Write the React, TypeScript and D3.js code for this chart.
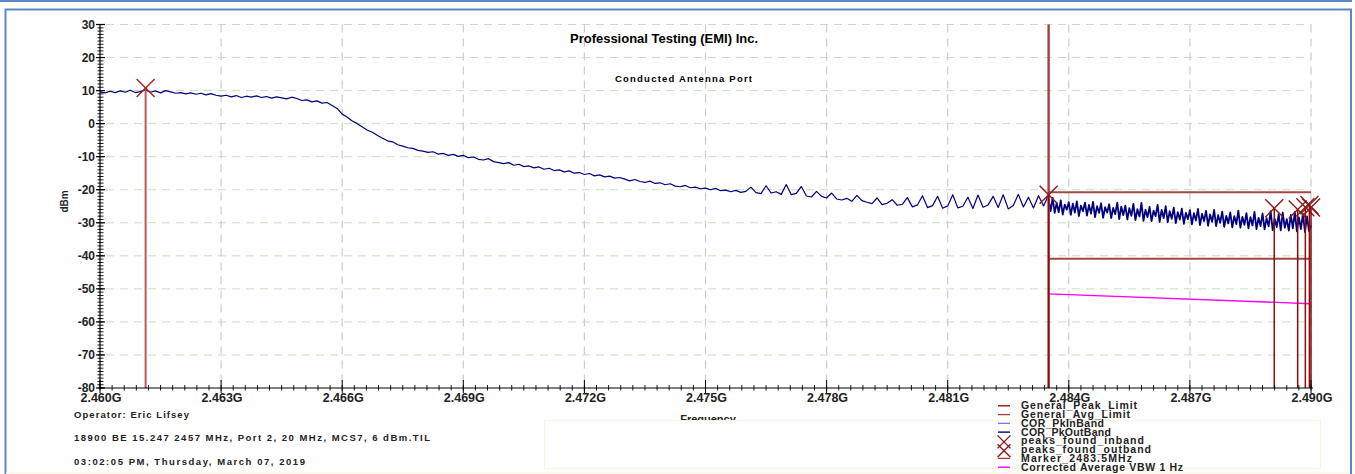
import React from "react";
import * as d3 from "d3";

// ---------- DATA ----------
const yTickValues = [30, 20, 10, 0, -10, -20, -30, -40, -50, -60, -70, -80];
const xTickValues = [2.46, 2.463, 2.466, 2.469, 2.472, 2.475, 2.478, 2.481, 2.484, 2.487, 2.49];

// COR trace, in-band part: 2.4600 .. 2.4835 GHz, step 0.125 MHz
const inBandStart = 2.46;
const inBandStep = 0.000125;
const inBandDbm = [
  9.6, 9.3, 9.8, 9.4, 9.9, 9.5, 10.1, 9.4,
  9.7, 10.2, 9.5, 9.9, 9.3, 10.0, 9.6, 9.2,
  9.4, 9.0, 9.3, 8.9, 9.2, 8.7, 9.1, 8.6,
  8.3, 8.6, 8.1, 8.5, 7.9, 8.3, 8.0, 8.4,
  7.9, 8.2, 7.7, 8.1, 7.8, 7.5, 8.0, 7.6,
  7.0, 7.2, 6.6, 6.9, 6.2, 6.4, 5.5, 4.6,
  2.9, 1.9, 0.8, 0.0, -1.0, -2.0, -2.6, -3.6,
  -4.4, -5.2, -5.5, -6.4, -6.8, -7.3, -7.5, -8.1,
  -8.3, -8.7, -8.5, -9.2, -9.0, -9.6, -9.3, -9.9,
  -9.6, -10.3, -10.1, -10.8, -11.0, -10.6, -11.5, -11.8,
  -12.1, -11.8, -12.6, -12.3, -13.0, -12.8, -13.4, -13.1,
  -13.8, -13.5, -14.2, -14.0, -14.6, -14.3, -15.0, -14.8,
  -15.4, -15.1, -15.8, -15.5, -16.1, -15.9, -16.5, -16.3,
  -16.8, -17.3, -16.9, -17.5, -17.8, -17.4, -18.1, -17.9,
  -18.5, -18.2, -18.9, -19.1, -18.7, -19.4, -19.2, -19.7,
  -19.5, -20.0, -19.6, -20.3, -20.1, -20.6, -20.2, -20.8,
  -20.5, -19.2, -20.9, -21.2, -18.8, -21.0, -20.6, -21.4,
  -18.4, -21.5, -21.1, -19.0, -21.9, -22.2, -20.5, -22.0,
  -22.5, -21.0, -22.8, -23.1, -22.6, -23.5, -21.7, -23.3,
  -23.8, -24.2, -22.5, -24.5, -24.1, -23.0, -24.7, -24.4,
  -22.4, -25.2, -24.6, -21.8, -25.4, -24.8, -22.0, -25.6,
  -24.9, -21.5, -25.5, -25.0, -22.3, -25.7, -21.6, -25.3,
  -24.6, -22.0, -25.4, -21.5, -25.8, -24.8, -21.4, -25.2,
  -22.3, -25.5, -21.8, -24.9, -21.5,
];

// COR trace, out-of-band part: 2.4835 .. 2.4900 GHz, step 0.05 MHz
const outBandStart = 2.4835;
const outBandStep = 0.00005;
const outBandDbm = [
  -23.0, -26.5, -22.5, -27.0, -24.0, -26.8, -23.2, -27.5, -24.5, -26.0,
  -23.8, -27.6, -24.2, -26.9, -23.5, -28.0, -24.8, -26.5, -23.9, -27.8,
  -24.6, -27.2, -23.7, -28.3, -25.0, -27.0, -24.1, -28.5, -25.3, -26.9,
  -24.4, -28.6, -25.5, -27.4, -23.9, -28.9, -25.1, -27.7, -24.8, -29.0,
  -25.6, -27.9, -24.3, -29.2, -25.9, -28.1, -24.0, -29.4, -26.0, -28.3,
  -25.2, -29.5, -26.3, -28.0, -24.6, -29.7, -26.1, -28.6, -25.0, -29.9,
  -26.5, -28.8, -25.4, -30.1, -26.8, -29.0, -25.7, -30.3, -27.0, -28.9,
  -26.2, -30.5, -27.1, -29.3, -25.8, -30.7, -27.3, -29.5, -26.4, -30.9,
  -27.5, -29.7, -26.1, -31.0, -27.7, -30.0, -26.6, -31.2, -27.9, -30.2,
  -26.9, -31.4, -28.0, -30.4, -26.3, -31.5, -28.2, -30.6, -27.1, -31.7,
  -28.3, -30.8, -26.7, -31.9, -28.5, -31.0, -27.2, -32.0, -28.6, -31.1,
  -26.5, -32.2, -28.8, -31.3, -27.4, -32.3, -26.9, -31.5, -28.9, -32.4,
  -27.6, -31.7, -26.8, -32.6, -28.4, -31.9, -27.3, -32.8, -28.1, -32.5, -30.8,
];

// peaks found
const peaksInband = [{ f: 2.46113, v: 10.8 }];
const peaksOutband = [
  { f: 2.4835, v: -21.5 },
  { f: 2.48909, v: -25.6 },
  { f: 2.48967, v: -26.0 },
  { f: 2.48986, v: -25.3 },
  { f: 2.48996, v: -24.6 },
  { f: 2.49, v: -25.4 },
];
const markerFreq = 2.4835;
const peakLimit = [{ f: 2.4835, v: -20.8 }, { f: 2.49, v: -20.8 }];
const avgLimit = [{ f: 2.4835, v: -40.9 }, { f: 2.49, v: -40.9 }];
const correctedAvg = [{ f: 2.4835, v: -51.5 }, { f: 2.49, v: -54.5 }];

const legendItems = [
  { name: "General_Peak_Limit", kind: "line", color: "#8b1a1a", w: 116 },
  { name: "General_Avg_Limit", kind: "line", color: "#a04848", w: 109 },
  { name: "COR_PkInBand", kind: "line", color: "#7a7ad8", w: 83 },
  { name: "COR_PkOutBand", kind: "line", color: "#00007f", w: 90 },
  { name: "peaks_found_inband", kind: "x", color: "#8b1a1a", w: 123 },
  { name: "peaks_found_outband", kind: "x", color: "#8b1a1a", w: 130 },
  { name: "Marker_2483.5MHz", kind: "line", color: "#a04040", w: 111 },
  { name: "Corrected Average VBW 1 Hz", kind: "line", color: "#ff00ff", w: 162 },
];

const infoLines = [
  { text: "Operator: Eric Lifsey", w: 115 },
  { text: "18900 BE 15.247 2457 MHz, Port 2, 20 MHz, MCS7, 6 dBm.TIL", w: 356 },
  { text: "03:02:05 PM, Thursday, March 07, 2019", w: 231 },
];

// ---------- LAYOUT ----------
const W = 1355;
const H = 474;
const left = 100;
const right = 1311;
const top = 24.5;
const bottom = 388;
const FONT = "Arial, 'Liberation Sans', Helvetica, sans-serif";

export default function App() {
  const x = d3.scaleLinear().domain([2.46, 2.49]).range([left, right]);
  const y = d3.scaleLinear().domain([-80, 30]).range([bottom, top]);

  const inPts = inBandDbm.map((v, i) => ({ f: inBandStart + i * inBandStep, v }));
  const outPts = outBandDbm.map((v, i) => ({ f: outBandStart + i * outBandStep, v }));
  const line = d3
    .line<{ f: number; v: number }>()
    .x((d) => x(d.f))
    .y((d) => y(d.v));

  const minorY = d3.range(-80, 31, 1);
  const minorX = d3.range(0, 101).map((k) => 2.46 + k * 0.0003);
  const xFmt = (v: number) => d3.format(".3f")(v) + "G";

  const Xmark = ({ cx, cy, color, s = 9 }: any) => (
    <g stroke={color} strokeWidth={1.4}>
      <line x1={cx - s} y1={cy - s} x2={cx + s} y2={cy + s} />
      <line x1={cx - s} y1={cy + s} x2={cx + s} y2={cy - s} />
    </g>
  );

  return (
    <svg
      width={W}
      height={H}
      style={{ position: "absolute", left: 0, top: 0, display: "block" }}
      fontFamily={FONT}
    >
      <rect x={0} y={0} width={W} height={H} fill="#ffffff" />
      {/* frames */}
      <line x1={0} y1={1} x2={1352} y2={1} stroke="#5b87c5" strokeWidth={2} />
      <rect x={5.5} y={9.5} width={1345.5} height={480} fill="none" stroke="#5b87c5" strokeWidth={2} />

      {/* grid */}
      {yTickValues
        .filter((v) => v > -80)
        .map((v) => (
          <line
            key={"gy" + v}
            x1={left + 6}
            x2={right}
            y1={y(v)}
            y2={y(v)}
            stroke="#c4e0bc"
            strokeWidth={1}
            strokeDasharray="8,6"
          />
        ))}
      {xTickValues
        .filter((v) => v > 2.4601)
        .map((v) => (
          <line
            key={"gx" + v}
            x1={x(v)}
            x2={x(v)}
            y1={top}
            y2={bottom}
            stroke="#cccccc"
            strokeWidth={1.2}
            strokeDasharray="8,6"
          />
        ))}

      {/* title */}
      <text x={664} y={42.5} textAnchor="middle" fontSize={13} fontWeight="bold" textLength={188} lengthAdjust="spacingAndGlyphs">
        Professional Testing (EMI) Inc.
      </text>
      <text x={683.5} y={81.5} textAnchor="middle" fontSize={9.5} fontWeight="bold" textLength={137} lengthAdjust="spacing">
        Conducted Antenna Port
      </text>

      {/* limit lines */}
      <path d={line(peakLimit) || ""} stroke="#a04848" strokeWidth={2} fill="none" />
      <path d={line(avgLimit) || ""} stroke="#a04848" strokeWidth={2} fill="none" />
      <path d={line(correctedAvg) || ""} stroke="#ff00ff" strokeWidth={1.3} fill="none" />

      {/* trace */}
      <path d={line(inPts) || ""} stroke="#00007f" strokeWidth={1.2} fill="none" strokeLinejoin="round" />
      <path d={line(outPts) || ""} stroke="#00007f" strokeWidth={1.8} fill="none" strokeLinejoin="round" />

      {/* marker line */}
      <line x1={x(markerFreq)} x2={x(markerFreq)} y1={y(30)} y2={y(-80)} stroke="#a04040" strokeWidth={2.4} />

      {/* peaks */}
      {peaksInband.map((p, i) => (
        <g key={"pi" + i}>
          <line x1={x(p.f)} x2={x(p.f)} y1={y(p.v)} y2={y(-80)} stroke="#c05656" strokeWidth={2} />
          <Xmark cx={x(p.f)} cy={y(p.v)} color="#a02020" />
        </g>
      ))}
      {peaksOutband.map((p, i) => (
        <g key={"po" + i}>
          <line x1={x(p.f)} x2={x(p.f)} y1={y(p.v)} y2={y(-80)} stroke="#8b0a0a" strokeWidth={1.5} />
          <Xmark cx={x(p.f)} cy={y(p.v)} color="#8b1a1a" />
        </g>
      ))}

      {/* y axis */}
      <line x1={left} x2={left} y1={top} y2={bottom} stroke="#000" strokeWidth={1.2} />
      {minorY.map((v) => (
        <line key={"my" + v} x1={left - 2.5} x2={left + 3.5} y1={y(v)} y2={y(v)} stroke="#000" strokeWidth={0.9} />
      ))}
      {yTickValues.map((v) => (
        <g key={"ty" + v}>
          <line x1={left - 4} x2={left + 5} y1={y(v)} y2={y(v)} stroke="#000" strokeWidth={1.2} />
          <text x={left - 5} y={y(v)} dy="0.36em" textAnchor="end" fontSize={12} fontWeight="bold" fill="#222">
            {v}
          </text>
        </g>
      ))}
      <text
        transform={`translate(68,201.5) rotate(-90)`}
        textAnchor="middle"
        fontSize={10}
        fontWeight="bold"
        fill="#222"
      >
        dBm
      </text>

      {/* x axis */}
      <line x1={left} x2={right + 2} y1={bottom} y2={bottom} stroke="#000" strokeWidth={1.2} />
      {minorX.map((v, i) => (
        <line key={"mx" + i} x1={x(v)} x2={x(v)} y1={bottom - 3} y2={bottom + 2.5} stroke="#000" strokeWidth={0.9} />
      ))}
      {xTickValues.map((v) => (
        <g key={"tx" + v}>
          <line x1={x(v)} x2={x(v)} y1={bottom - 8} y2={bottom + 5} stroke="#000" strokeWidth={1} />
          <text x={x(v) + 1} y={401.5} textAnchor="middle" fontSize={12.5} fontWeight="bold" fill="#222">
            {xFmt(v)}
          </text>
        </g>
      ))}
      <text x={708} y={423} textAnchor="middle" fontSize={11} fontWeight="bold" fill="#222">
        Frequency
      </text>

      {/* info */}
      {infoLines.map((l, i) => (
        <text
          key={"info" + i}
          x={74}
          y={[418.3, 440.5, 465][i]}
          fontSize={9.5}
          fontWeight="bold"
          fill="#222"
          textLength={l.w}
          lengthAdjust="spacing"
        >
          {l.text}
        </text>
      ))}

      {/* legend box */}
      <rect x={544.5} y={420.5} width={776} height={48} fill="#ffffff" stroke="#fbf3dc" strokeWidth={1} />
      <line x1={6} x2={1350} y1={473} y2={473} stroke="#fbf6e4" strokeWidth={1.5} />
      {legendItems.map((it, i) => {
        const base = 409.3 + i * 8.77;
        const cy = base - 3.5;
        return (
          <g key={"lg" + i}>
            {it.kind === "line" ? (
              <line x1={998} x2={1010} y1={cy} y2={cy} stroke={it.color} strokeWidth={1.4} />
            ) : (
              <Xmark cx={1004} cy={cy + 1} color={it.color} s={6.5} />
            )}
            <text x={1021} y={base} fontSize={10.5} fontWeight="bold" fill="#222" textLength={it.w} lengthAdjust="spacing">
              {it.name}
            </text>
          </g>
        );
      })}
    </svg>
  );
}
